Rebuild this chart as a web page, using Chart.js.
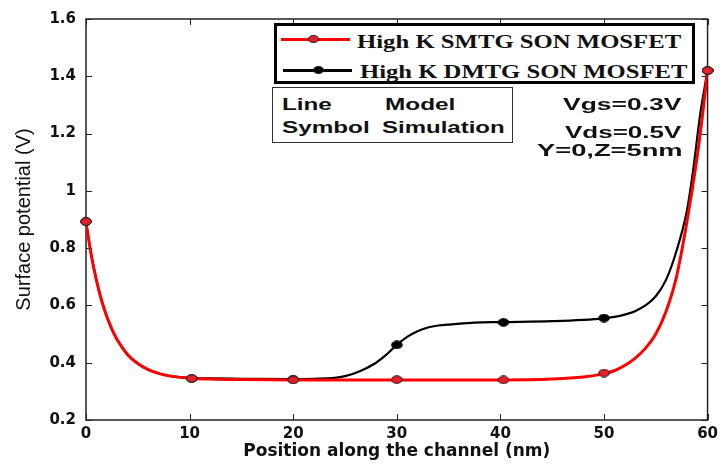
<!DOCTYPE html>
<html>
<head>
<meta charset="utf-8">
<script src="https://cdn.jsdelivr.net/npm/chart.js@4.4.1/dist/chart.umd.min.js"></script>
<style>
body { margin: 0; background: #fff; }
.wrap { position: relative; width: 723px; height: 464px; }
#chart { position: absolute; left: 0; top: 0; }
.box { position: absolute; box-sizing: border-box; background: #fff; }
.legend { left: 274px; top: 23px; width: 421px; height: 61px; border: 3px solid #000; }
.note { left: 272px; top: 87px; width: 241px; height: 56px; border: 1px solid #333; }
.txt { position: absolute; white-space: nowrap; line-height: 1; color: #111; transform-origin: 0 50%; }
.serif { font: bold 19px "Liberation Serif", serif; }
.sans { font: bold 16px "Liberation Sans", Arial, sans-serif; }
.swatch { position: absolute; height: 3px; }
.dot { position: absolute; width: 11px; height: 8px; border-radius: 50%; box-sizing: border-box; border: 1px solid #222; }
</style>
</head>
<body>
<div class="wrap">
  <canvas id="chart" width="723" height="464"></canvas>

  <div class="box legend"></div>
  <div class="swatch" style="left:281px;top:38px;width:69px;background:#ff0000"></div>
  <div class="dot" style="left:308px;top:35px;background:#e3202a"></div>
  <div class="txt serif" data-w="324" style="left:357px;top:31px">High K SMTG SON MOSFET</div>
  <div class="swatch" style="left:283px;top:69px;width:69px;background:#000"></div>
  <div class="dot" style="left:313px;top:66px;background:#000"></div>
  <div class="txt serif" data-w="327" style="left:360px;top:61px">High K DMTG SON MOSFET</div>

  <div class="box note"></div>
  <div class="txt sans" data-w="50" style="left:282px;top:96px">Line</div>
  <div class="txt sans" data-w="70" style="left:385px;top:96px">Model</div>
  <div class="txt sans" data-w="88" style="left:282px;top:119px">Symbol</div>
  <div class="txt sans" data-w="123" style="left:382px;top:119px">Simulation</div>

  <div class="txt sans" data-w="119" style="left:563px;top:96px">Vgs=0.3V</div>
  <div class="txt sans" data-w="117" style="left:565px;top:124px">Vds=0.5V</div>
  <div class="txt sans" data-w="145" style="left:537px;top:142px">Y=0,Z=5nm</div>
</div>
<script>
// model curves (lines)
const smtgModelX = [0, 0.5, 1, 1.5, 2, 2.5, 3, 4, 5, 6, 7, 8, 10, 12, 15, 20, 30, 40, 45, 48, 50, 51, 52, 53, 54, 55, 56, 57, 58, 59, 59.5, 60];
const smtgModelY = [0.89, 0.778, 0.689, 0.618, 0.562, 0.517, 0.481, 0.429, 0.397, 0.376, 0.363, 0.354, 0.346, 0.343, 0.341, 0.34, 0.34, 0.34, 0.343, 0.35, 0.362, 0.372, 0.39, 0.415, 0.45, 0.5, 0.58, 0.7, 0.89, 1.12, 1.26, 1.42];

const dmtgModelX = [0, 0.5, 1, 1.5, 2, 2.5, 3, 4, 5, 6, 7, 8, 10, 12, 15, 20, 22, 24, 25, 26, 27, 28, 29, 30, 31, 32, 33, 34, 35.3, 37.5, 40, 45, 50, 51, 52, 53, 54, 55, 56, 57, 58, 58.6, 59.3, 60];
const dmtgModelY = [0.89, 0.778, 0.689, 0.618, 0.562, 0.517, 0.481, 0.429, 0.397, 0.376, 0.363, 0.354, 0.347, 0.345, 0.344, 0.343, 0.344, 0.347, 0.353, 0.364, 0.38, 0.4, 0.428, 0.462, 0.49, 0.51, 0.523, 0.53, 0.534, 0.54, 0.542, 0.545, 0.555, 0.56, 0.568, 0.58, 0.6, 0.632, 0.69, 0.79, 0.93, 1.07, 1.27, 1.42];

// simulation symbols
const simX = [0, 10.2, 20, 30, 40.3, 50, 60];
const smtgSimY = [0.893, 0.345, 0.34, 0.341, 0.34, 0.364, 1.42];
const dmtgSimY = [0.893, 0.345, 0.342, 0.462, 0.541, 0.556, 1.42];

const xTicks = [0, 10, 20, 30, 40, 50, 60];
const yTicks = [0.2, 0.4, 0.6, 0.8, 1, 1.2, 1.4, 1.6];

const toPoints = (xs, ys) => xs.map((x, i) => ({x, y: ys[i]}));

const makeMarker = (fill, stroke) => {
    const c = document.createElement('canvas');
    c.width = 12;
    c.height = 9;
    const g = c.getContext('2d');
    g.beginPath();
    g.ellipse(6, 4.5, 5.3, 3.8, 0, 0, Math.PI * 2);
    g.fillStyle = fill;
    g.fill();
    g.lineWidth = 1;
    g.strokeStyle = stroke;
    g.stroke();
    return c;
};

// fit overlay texts to the stretched look of the original
document.querySelectorAll('.txt[data-w]').forEach(el => {
    const k = el.dataset.w / el.offsetWidth;
    el.style.transform = 'scaleX(' + k + ')';
});

const frameTicks = {
    id: 'frameTicks',
    beforeDatasetsDraw(chart) {
        const {ctx, chartArea: a, scales} = chart;
        ctx.save();
        ctx.strokeStyle = '#222';
        ctx.lineWidth = 1.5;
        ctx.strokeRect(a.left, a.top, a.right - a.left, a.bottom - a.top);
        ctx.lineWidth = 1;
        ctx.beginPath();
        xTicks.forEach(v => {
            const px = Math.round(scales.x.getPixelForValue(v)) + 0.5;
            ctx.moveTo(px, a.bottom); ctx.lineTo(px, a.bottom - 6);
            ctx.moveTo(px, a.top); ctx.lineTo(px, a.top + 6);
        });
        yTicks.forEach(v => {
            const py = Math.round(scales.y.getPixelForValue(v)) + 0.5;
            ctx.moveTo(a.left, py); ctx.lineTo(a.left + 6, py);
            ctx.moveTo(a.right, py); ctx.lineTo(a.right - 6, py);
        });
        ctx.stroke();
        ctx.restore();
    }
};

const tickFont = {family: '"DejaVu Sans", sans-serif', weight: 'bold', size: 15};

new Chart(document.getElementById('chart'), {
    type: 'line',
    data: {
        datasets: [
            {
                label: 'High K SMTG SON MOSFET (simulation)',
                data: toPoints(simX, smtgSimY),
                showLine: false,
                pointStyle: makeMarker('#e3202a', '#222'),
                pointRadius: 5,
                clip: false
            },
            {
                label: 'High K DMTG SON MOSFET (simulation)',
                data: toPoints(simX, dmtgSimY),
                showLine: false,
                pointStyle: makeMarker('#000', '#000'),
                pointRadius: 5,
                clip: false
            },
            {
                label: 'High K SMTG SON MOSFET',
                data: toPoints(smtgModelX, smtgModelY),
                borderColor: '#ff0000',
                borderWidth: 3,
                pointRadius: 0,
                cubicInterpolationMode: 'monotone'
            },
            {
                label: 'High K DMTG SON MOSFET',
                data: toPoints(dmtgModelX, dmtgModelY),
                borderColor: '#000',
                borderWidth: 2.2,
                pointRadius: 0,
                cubicInterpolationMode: 'monotone'
            }
        ]
    },
    options: {
        responsive: false,
        animation: false,
        layout: {padding: {top: 15, right: 12, left: 0, bottom: 0}},
        plugins: {legend: {display: false}, tooltip: {enabled: false}},
        scales: {
            x: {
                type: 'linear',
                min: 0,
                max: 60,
                afterFit: s => { s.height = 44; },
                afterBuildTicks: s => { s.ticks = xTicks.map(value => ({value})); },
                grid: {display: false, drawTicks: false, tickLength: 0},
                border: {display: false},
                ticks: {padding: 5, color: '#111', font: tickFont, maxRotation: 0},
                title: {
                    display: true,
                    text: 'Position along the channel (nm)',
                    color: '#111',
                    font: {family: '"DejaVu Sans", sans-serif', weight: 'bold', size: 17},
                    padding: {top: 0, bottom: 2}
                }
            },
            y: {
                min: 0.2,
                max: 1.6,
                afterFit: s => { s.width = 86; },
                afterBuildTicks: s => { s.ticks = yTicks.map(value => ({value})); },
                grid: {display: false, drawTicks: false, tickLength: 0},
                border: {display: false},
                ticks: {padding: 10, color: '#111', font: tickFont, callback: v => String(v)},
                title: {
                    display: true,
                    text: 'Surface potential (V)',
                    color: '#111',
                    font: {family: '"Liberation Sans", Arial, sans-serif', size: 20},
                    padding: {top: 12, bottom: 0}
                }
            }
        }
    },
    plugins: [frameTicks]
});
</script>
</body>
</html>
